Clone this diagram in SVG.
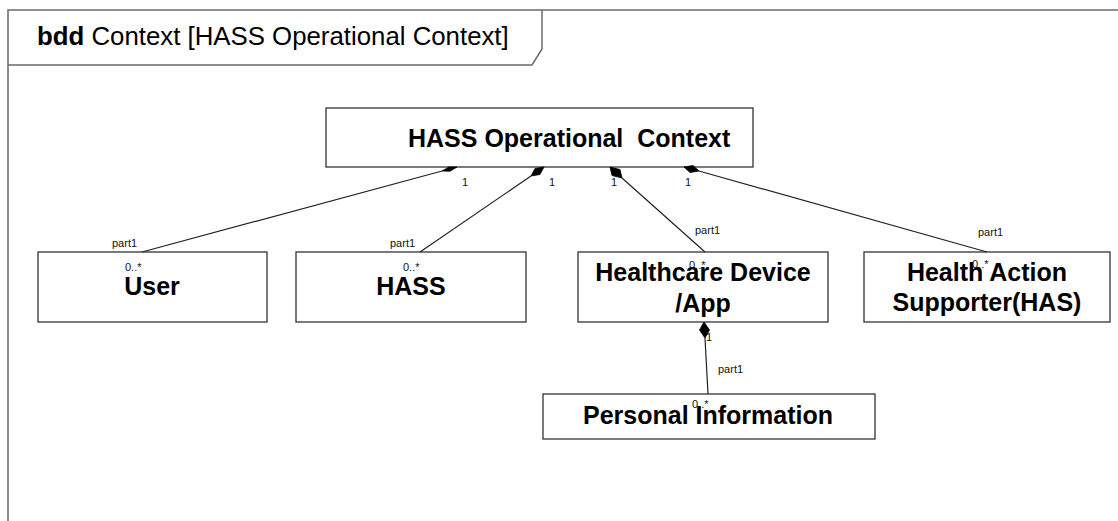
<svg xmlns="http://www.w3.org/2000/svg" width="1118" height="521" viewBox="0 0 1118 521">
  <style>
    text { font-family: "Liberation Sans", Arial, Helvetica, sans-serif; fill: #000; }
    .frame { fill: none; stroke: #6a6a6a; stroke-width: 1.5; }
    .box { fill: #fff; stroke: #333; stroke-width: 1.3; }
    .name { font-size: 25px; font-weight: bold; text-anchor: middle; }
    .title { font-size: 25.8px; }
    .small { font-size: 11px; fill: #111; }
    .edge { fill: none; stroke: #222; stroke-width: 1.2; }
    .diamond { fill: #000; stroke: #000; stroke-width: 0.8; }
  </style>

  <rect width="1118" height="521" fill="#fff"/>

  <!-- diagram frame and header tab -->
  <g id="frame">
    <path class="frame" d="M8,521 V10 H1118"/>
    <path class="frame" d="M8,65 H532 L542,49 V10"/>
    <text class="title" x="37" y="45"><tspan font-weight="bold">bdd</tspan> Context [HASS Operational Context]</text>
  </g>

  <!-- blocks -->
  <g id="hass-operational-context">
    <rect class="box" x="326" y="108" width="427" height="59"/>
    <text class="name" x="408" y="147" style="text-anchor:start" xml:space="preserve">HASS Operational  Context</text>
  </g>

  <g id="user">
    <rect class="box" x="38" y="252" width="229" height="70"/>
    <text class="name" x="152" y="295">User</text>
  </g>

  <g id="hass">
    <rect class="box" x="296" y="252" width="230" height="70"/>
    <text class="name" x="411" y="295">HASS</text>
  </g>

  <g id="healthcare-device-app">
    <rect class="box" x="578" y="252" width="250" height="70"/>
    <text class="name" x="703" y="281">Healthcare Device</text>
    <text class="name" x="703" y="312">/App</text>
  </g>

  <g id="health-action-supporter">
    <rect class="box" x="864" y="252" width="246" height="70"/>
    <text class="name" x="987" y="281">Health Action</text>
    <text class="name" x="987" y="311">Supporter(HAS)</text>
  </g>

  <g id="personal-information">
    <rect class="box" x="543" y="394" width="332" height="45"/>
    <text class="name" x="708" y="424">Personal Information</text>
  </g>

  <!-- composition associations -->
  <g id="connectors">
    <!-- User -->
    <line class="edge" x1="142" y1="252" x2="442" y2="171"/>
    <polygon class="diamond" points="457,167 449,166.9 442,171 450,171.2"/>
    <text class="small" x="462" y="186">1</text>
    <text class="small" x="112" y="247">part1</text>
    <text class="small" x="125" y="271">0..*</text>

    <!-- HASS -->
    <line class="edge" x1="420" y1="252" x2="531" y2="176"/>
    <polygon class="diamond" points="544,167 535,168.5 531,176 540,174.5"/>
    <text class="small" x="549" y="186">1</text>
    <text class="small" x="390" y="247">part1</text>
    <text class="small" x="403" y="271">0..*</text>

    <!-- Healthcare Device/App -->
    <line class="edge" x1="705" y1="252" x2="622" y2="178"/>
    <polygon class="diamond" points="610,167 612,175.5 622,178 620,169.5"/>
    <text class="small" x="611" y="186">1</text>
    <text class="small" x="695" y="234">part1</text>
    <text class="small" x="689" y="269">0..*</text>

    <!-- Health Action Supporter -->
    <line class="edge" x1="987" y1="252" x2="699" y2="171"/>
    <polygon class="diamond" points="684,167 690,172.5 699,171 693,165.5"/>
    <text class="small" x="685" y="186">1</text>
    <text class="small" x="978" y="236">part1</text>
    <text class="small" x="972" y="268">0..*</text>

    <!-- Personal Information -->
    <line class="edge" x1="708" y1="394" x2="705" y2="338"/>
    <polygon class="diamond" points="704,322 699.5,330 705,338 709.5,330"/>
    <text class="small" x="706" y="341">1</text>
    <text class="small" x="718" y="373">part1</text>
    <text class="small" x="692" y="408">0..*</text>
  </g>
</svg>
